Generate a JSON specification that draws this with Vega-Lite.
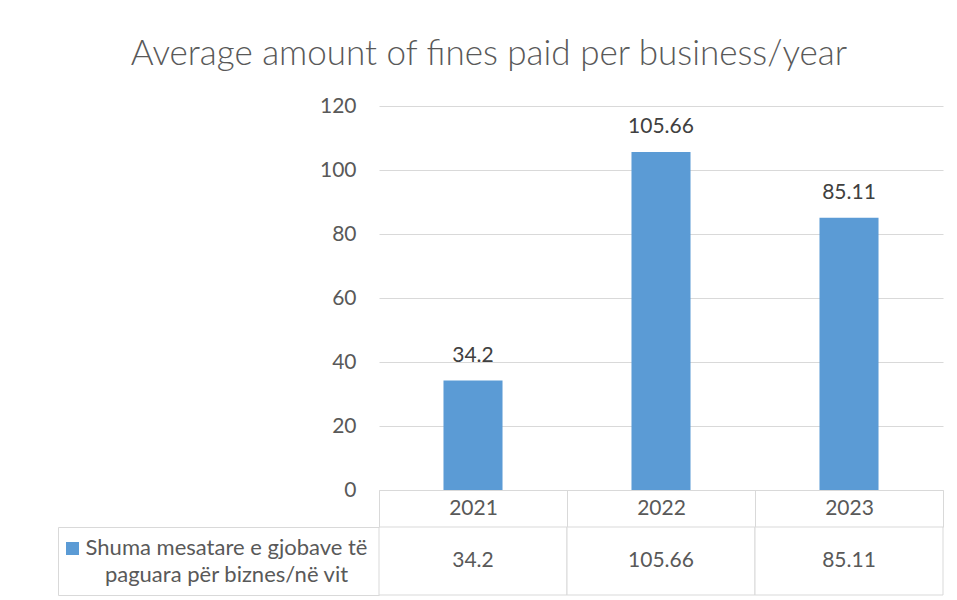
{
  "$schema": "https://vega.github.io/schema/vega-lite/v6.json",
  "autosize": {"type": "pad"},
  "padding": {"left": 57, "top": 37, "right": 15, "bottom": 3},
  "background": "white",
  "datasets": {
    "fines": [
      {"year": "2021", "value": 34.2, "series": "Shuma mesatare e gjobave të paguara për biznes/në vit"},
      {"year": "2022", "value": 105.66, "series": "Shuma mesatare e gjobave të paguara për biznes/në vit"},
      {"year": "2023", "value": 85.11, "series": "Shuma mesatare e gjobave të paguara për biznes/në vit"}
    ]
  },
  "config": {
    "font": "Lato",
    "view": {"stroke": null}
  },
  "bounds": "flush",
  "spacing": 37,
  "resolve": {"scale": {"x": "independent"}, "legend": {"color": "independent"}},
  "vconcat": [
    {
      "width": 564,
      "height": 384,
      "title": {
        "text": "Average amount of fines paid per business/year",
        "fontSize": 35,
        "fontWeight": 300,
        "color": "#595959",
        "anchor": "middle",
        "dx": -172,
        "offset": 23
      },
      "data": {"name": "fines"},
      "encoding": {
        "x": {
          "field": "year",
          "type": "ordinal",
          "scale": {"paddingInner": 0, "paddingOuter": 0},
          "axis": {
            "title": null,
            "domain": true,
            "domainColor": "#d9d9d9",
            "ticks": true,
            "tickBand": "extent",
            "tickSize": 37,
            "tickColor": "#d9d9d9",
            "labelAngle": 0,
            "labelFontSize": 21,
            "labelColor": "#595959",
            "labelBaseline": "middle",
            "labelPadding": -19,
            "grid": false
          }
        }
      },
      "layer": [
        {
          "mark": {"type": "bar", "width": {"band": 0.314}},
          "encoding": {
            "y": {
              "field": "value",
              "type": "quantitative",
              "scale": {"domain": [0, 120]},
              "axis": {
                "title": null,
                "domain": false,
                "ticks": false,
                "values": [0, 20, 40, 60, 80, 100, 120],
                "grid": true,
                "gridColor": "#d9d9d9",
                "labelFontSize": 21,
                "labelColor": "#595959",
                "labelPadding": 23
              }
            },
            "color": {
              "field": "series",
              "type": "nominal",
              "scale": {"range": ["#5b9bd5"]},
              "legend": {
                "title": null,
                "orient": "none",
                "legendX": -317,
                "legendY": 432,
                "padding": 0,
                "symbolType": "square",
                "symbolSize": 169,
                "symbolStrokeWidth": 0,
                "labelFontSize": 21,
                "labelExpr": "''"
              }
            }
          }
        },
        {
          "mark": {"type": "text", "baseline": "middle", "dy": -25, "fontSize": 21, "color": "#404040"},
          "encoding": {
            "y": {"field": "value", "type": "quantitative"},
            "text": {"field": "value", "type": "quantitative", "format": ""}
          }
        }
      ]
    },
    {
      "width": 564,
      "height": 68,
      "data": {"name": "fines"},
      "encoding": {
        "x": {
          "field": "year",
          "type": "ordinal",
          "scale": {"paddingInner": 0, "paddingOuter": 0},
          "axis": null
        }
      },
      "layer": [
        {
          "mark": {"type": "rect", "fill": "white", "stroke": "#d9d9d9", "strokeWidth": 1},
          "encoding": {
            "y": {
              "field": "series",
              "type": "nominal",
              "axis": {
                "title": null,
                "offset": 321,
                "domain": true,
                "domainColor": "#d9d9d9",
                "ticks": true,
                "tickBand": "extent",
                "tickSize": -321,
                "tickColor": "#d9d9d9",
                "labels": true,
                "labelAlign": "center",
                "labelBaseline": "middle",
                "labelPadding": 153,
                "labelOffset": -13.5,
                "labelFontSize": 22,
                "labelColor": "#595959",
                "labelLineHeight": 27,
                "labelLimit": 400,
                "labelExpr": "[slice(datum.label, 0, 27), slice(datum.label, 28)]"
              }
            }
          }
        },
        {
          "mark": {"type": "text", "baseline": "middle", "fontSize": 21, "color": "#595959"},
          "encoding": {
            "text": {"field": "value", "type": "quantitative", "format": ""}
          }
        }
      ]
    }
  ]
}
